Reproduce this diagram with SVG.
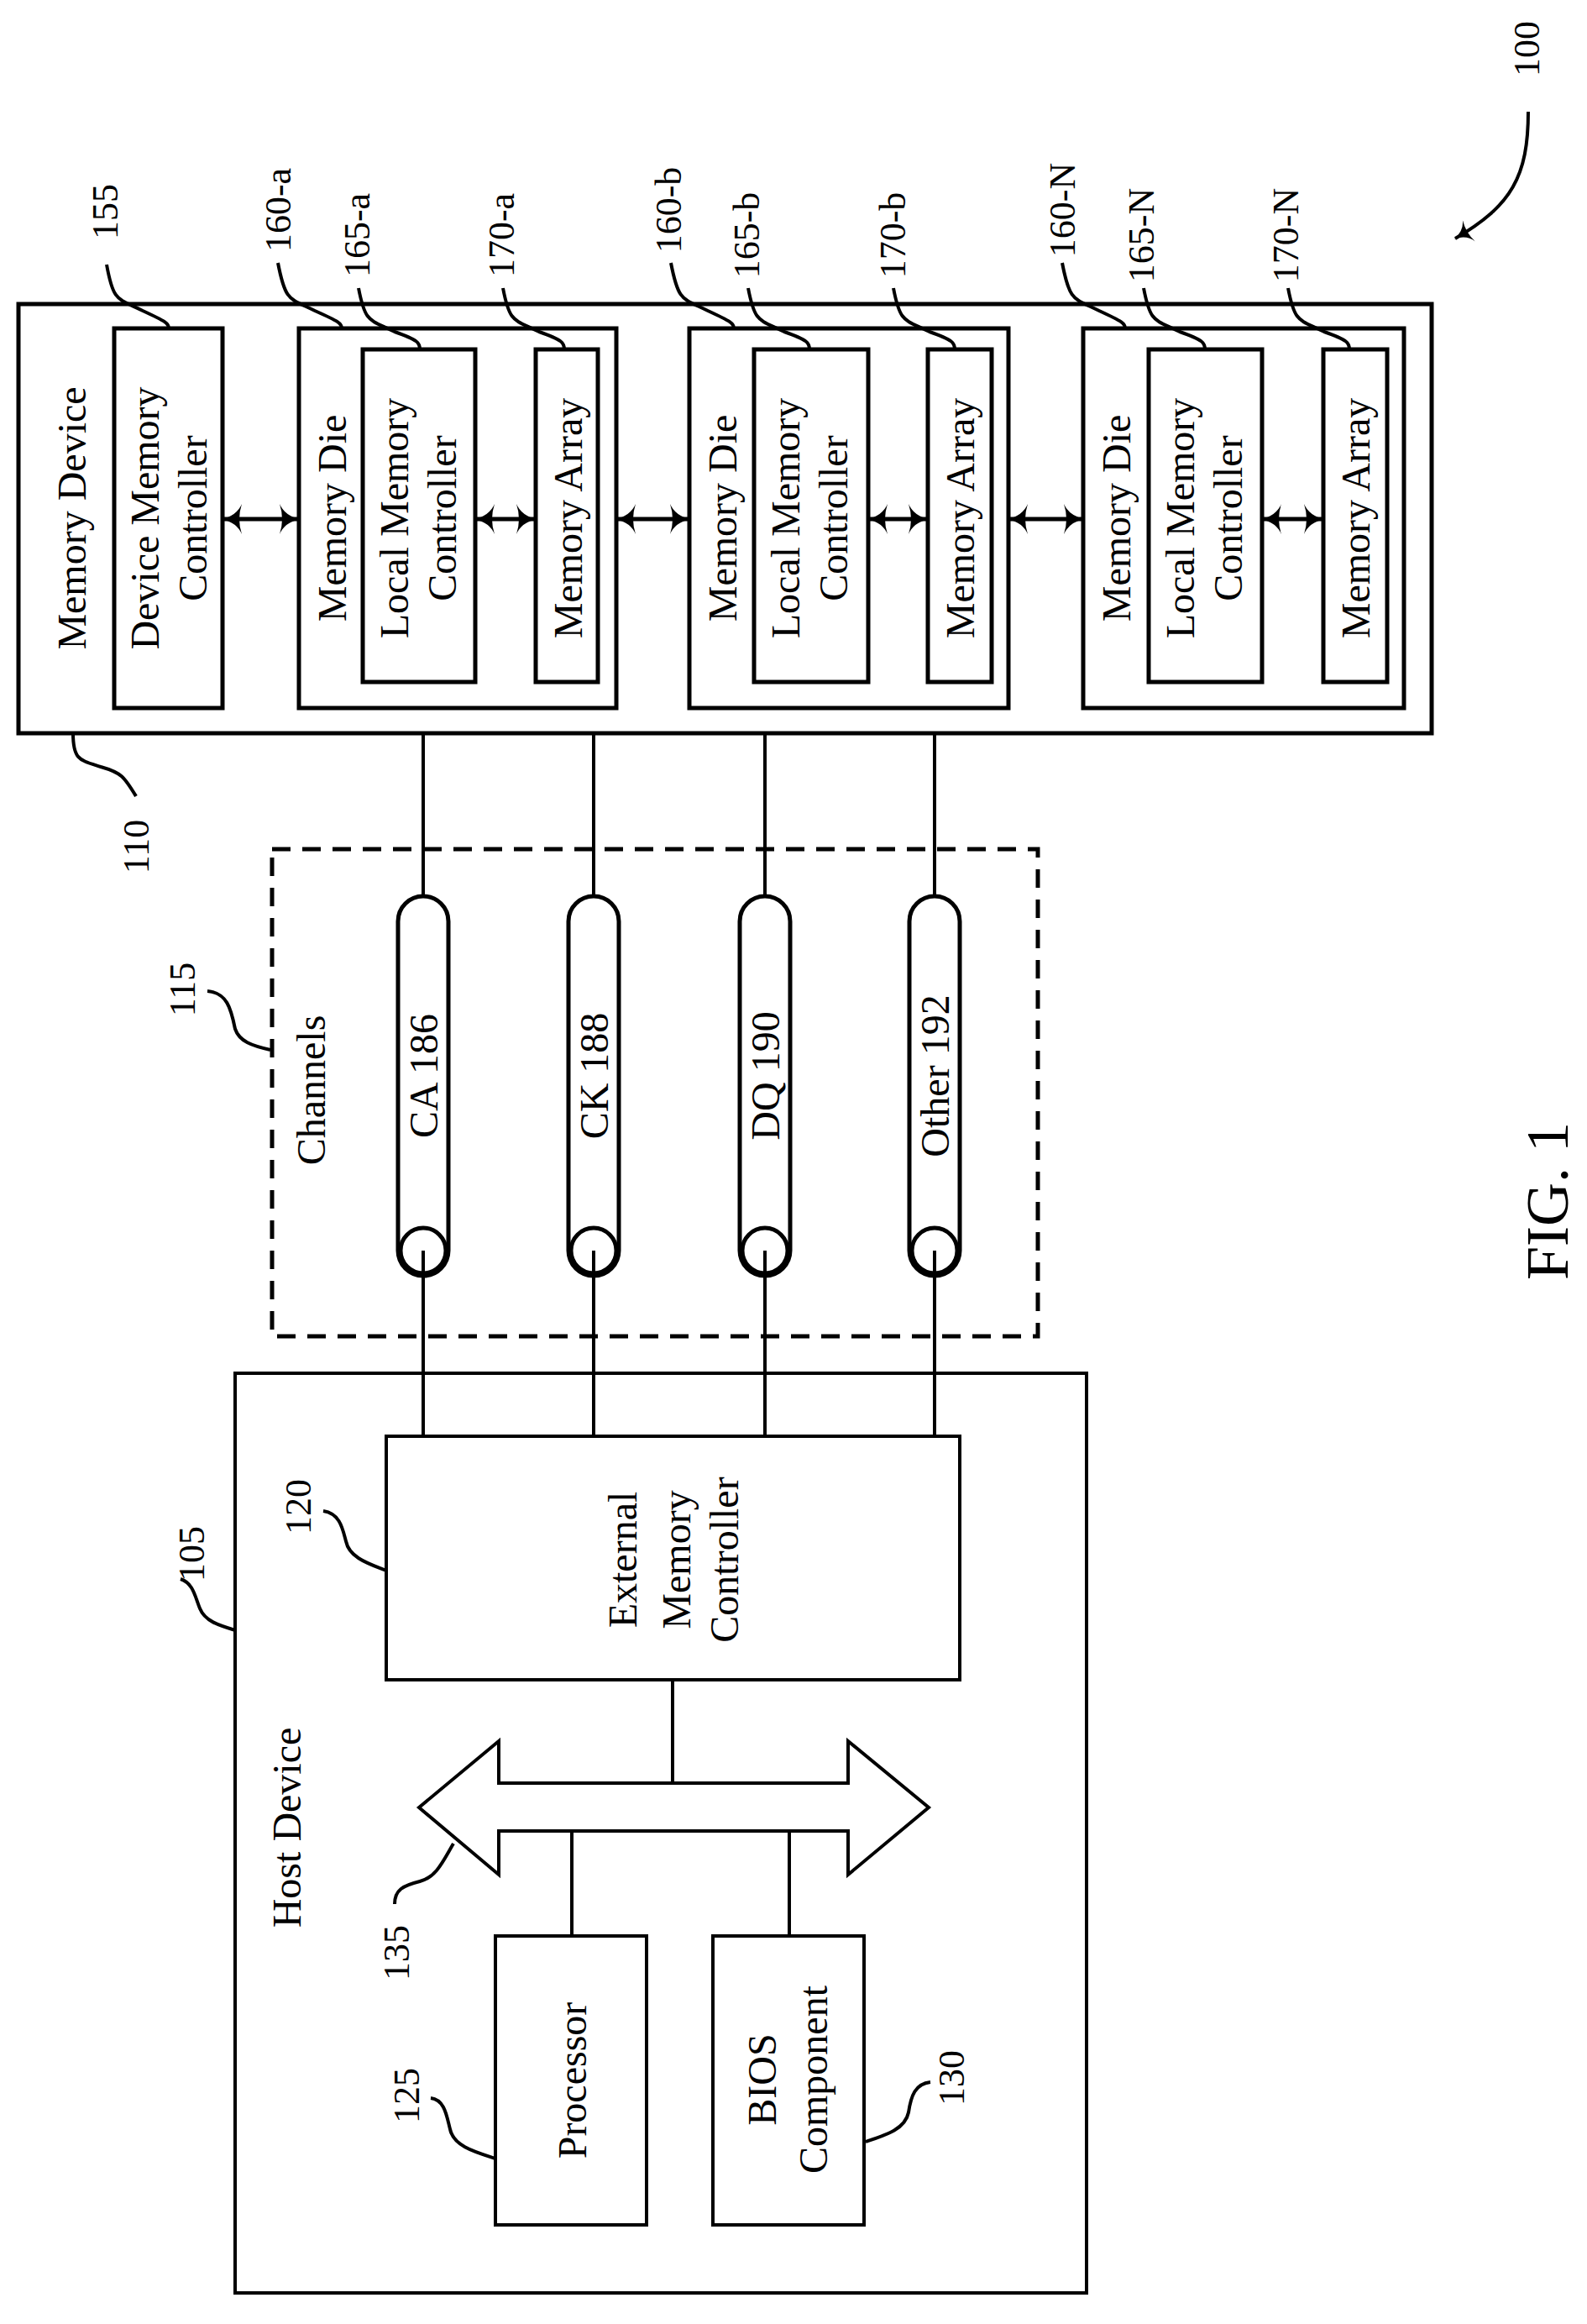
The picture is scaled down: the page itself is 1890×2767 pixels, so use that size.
<svg xmlns="http://www.w3.org/2000/svg" width="1890" height="2767" viewBox="0 0 1890 2767">
<style>
.b{fill:#fff;stroke:#000;stroke-width:5}
.h{fill:none;stroke:#000;stroke-width:4}
.l{fill:none;stroke:#000;stroke-width:5}
.t{font-family:"Liberation Serif",serif;font-size:48px;fill:#000;text-anchor:middle;dominant-baseline:central}
.n{font-family:"Liberation Serif",serif;font-size:44px;fill:#000;text-anchor:middle;dominant-baseline:central}
</style>
<defs>
<marker id="ah" viewBox="0 0 24 36" refX="23" refY="18" markerWidth="24" markerHeight="36" markerUnits="userSpaceOnUse" orient="auto-start-reverse">
<path d="M0,0 Q6,14 24,18 Q6,22 0,36 Q6,18 0,0Z" fill="#000"/>
</marker>
<marker id="ah2" viewBox="0 0 20 30" refX="19" refY="15" markerWidth="20" markerHeight="30" markerUnits="userSpaceOnUse" orient="auto">
<path d="M0,0 Q5,12 20,15 Q5,18 0,30 Q5,15 0,0Z" fill="#000"/>
</marker>
</defs>

<g id="memory-device">
<rect class="b" x="22" y="362" width="1683" height="511"/>
<text class="t" transform="translate(85,617) rotate(-90)">Memory Device</text>
</g>
<g id="device-memory-controller">
<rect class="b" x="136" y="391" width="129" height="452"/>
<text class="t" transform="translate(172,617) rotate(-90)">Device Memory</text>
<text class="t" transform="translate(229,617) rotate(-90)">Controller</text>
</g>

<g id="die-a">
<rect class="b" x="356" y="391" width="378" height="452"/>
<text class="t" transform="translate(395,617) rotate(-90)">Memory Die</text>
<rect class="b" x="432" y="416" width="134" height="396"/>
<text class="t" transform="translate(469,617) rotate(-90)">Local Memory</text>
<text class="t" transform="translate(526,617) rotate(-90)">Controller</text>
<rect class="b" x="638" y="416" width="74" height="396"/>
<text class="t" transform="translate(676,617) rotate(-90)">Memory Array</text>
</g>
<g id="die-b">
<rect class="b" x="821" y="391" width="380" height="452"/>
<text class="t" transform="translate(860,617) rotate(-90)">Memory Die</text>
<rect class="b" x="898" y="416" width="136" height="396"/>
<text class="t" transform="translate(935,617) rotate(-90)">Local Memory</text>
<text class="t" transform="translate(992,617) rotate(-90)">Controller</text>
<rect class="b" x="1105" y="416" width="76" height="396"/>
<text class="t" transform="translate(1143,617) rotate(-90)">Memory Array</text>
</g>
<g id="die-n">
<rect class="b" x="1290" y="391" width="382" height="452"/>
<text class="t" transform="translate(1329,617) rotate(-90)">Memory Die</text>
<rect class="b" x="1368" y="416" width="135" height="396"/>
<text class="t" transform="translate(1405,617) rotate(-90)">Local Memory</text>
<text class="t" transform="translate(1462,617) rotate(-90)">Controller</text>
<rect class="b" x="1576" y="416" width="76" height="396"/>
<text class="t" transform="translate(1614,617) rotate(-90)">Memory Array</text>
</g>

<g id="channels">
<rect x="324" y="1011" width="912" height="580" fill="none" stroke="#000" stroke-width="5" stroke-dasharray="22,14"/>
<text class="t" transform="translate(370,1298) rotate(-90)">Channels</text>
</g>
<g id="ch-ca">
<path class="l" d="M474,1489 V1097 A30,30 0 0 1 534,1097 V1489 A30,30 0 0 1 474,1489Z"/>
<circle class="l" cx="504" cy="1489" r="27"/>
<text class="t" transform="translate(504,1281) rotate(-90)">CA 186</text>
</g>
<g id="ch-ck">
<path class="l" d="M677,1489 V1097 A30,30 0 0 1 737,1097 V1489 A30,30 0 0 1 677,1489Z"/>
<circle class="l" cx="707" cy="1489" r="27"/>
<text class="t" transform="translate(707,1281) rotate(-90)">CK 188</text>
</g>
<g id="ch-dq">
<path class="l" d="M881,1489 V1097 A30,30 0 0 1 941,1097 V1489 A30,30 0 0 1 881,1489Z"/>
<circle class="l" cx="911" cy="1489" r="27"/>
<text class="t" transform="translate(911,1281) rotate(-90)">DQ 190</text>
</g>
<g id="ch-other">
<path class="l" d="M1083,1489 V1097 A30,30 0 0 1 1143,1097 V1489 A30,30 0 0 1 1083,1489Z"/>
<circle class="l" cx="1113" cy="1489" r="27"/>
<text class="t" transform="translate(1113,1281) rotate(-90)">Other 192</text>
</g>

<g id="host-device">
<rect class="h" x="280" y="1635" width="1014" height="1095"/>
<text class="t" transform="translate(341,2176) rotate(-90)">Host Device</text>
</g>
<g id="external-memory-controller">
<rect class="h" x="460" y="1710" width="683" height="290" fill="#fff"/>
<text class="t" transform="translate(741,1857) rotate(-90)">External</text>
<text class="t" transform="translate(805,1857) rotate(-90)">Memory</text>
<text class="t" transform="translate(862,1857) rotate(-90)">Controller</text>
</g>
<g id="bus">
<path class="h" d="M499,2152 L594,2073 V2123 H1010 V2073 L1106,2152 L1010,2232 V2180 H594 V2232 Z"/>
</g>
<g id="processor">
<rect class="h" x="590" y="2305" width="180" height="344"/>
<text class="t" transform="translate(681,2477) rotate(-90)">Processor</text>
</g>
<g id="bios">
<rect class="h" x="849" y="2305" width="180" height="344"/>
<text class="t" transform="translate(907,2476) rotate(-90)">BIOS</text>
<text class="t" transform="translate(968,2476) rotate(-90)">Component</text>
</g>

<g id="connectors">
<line class="l" x1="265" y1="618" x2="356" y2="618" marker-start="url(#ah)" marker-end="url(#ah)"/>
<line class="l" x1="566" y1="618" x2="638" y2="618" marker-start="url(#ah)" marker-end="url(#ah)"/>
<line class="l" x1="734" y1="618" x2="821" y2="618" marker-start="url(#ah)" marker-end="url(#ah)"/>
<line class="l" x1="1034" y1="618" x2="1105" y2="618" marker-start="url(#ah)" marker-end="url(#ah)"/>
<line class="l" x1="1201" y1="618" x2="1290" y2="618" marker-start="url(#ah)" marker-end="url(#ah)"/>
<line class="l" x1="1503" y1="618" x2="1576" y2="618" marker-start="url(#ah)" marker-end="url(#ah)"/>
<path class="h" d="M504,873 V1067 M707,873 V1067 M911,873 V1067 M1113,873 V1067"/>
<path class="h" d="M504,1489 V1710 M707,1489 V1710 M911,1489 V1710 M1113,1489 V1710"/>
<path class="h" d="M801,2000 V2123 M681,2180 V2305 M940,2180 V2305"/>
</g>

<g id="labels">
<text class="n" transform="translate(125,252) rotate(-90)">155</text>
<text class="n" transform="translate(331,250) rotate(-90)">160-a</text>
<text class="n" transform="translate(425,280) rotate(-90)">165-a</text>
<text class="n" transform="translate(597,280) rotate(-90)">170-a</text>
<text class="n" transform="translate(796,250) rotate(-90)">160-b</text>
<text class="n" transform="translate(889,280) rotate(-90)">165-b</text>
<text class="n" transform="translate(1063,280) rotate(-90)">170-b</text>
<text class="n" transform="translate(1265,250) rotate(-90)">160-N</text>
<text class="n" transform="translate(1359,280) rotate(-90)">165-N</text>
<text class="n" transform="translate(1531,280) rotate(-90)">170-N</text>
<text class="n" transform="translate(1818,58) rotate(-90)">100</text>
<text class="n" transform="translate(162,1008) rotate(-90)">110</text>
<text class="n" transform="translate(217,1178) rotate(-90)">115</text>
<text class="n" transform="translate(228,1850) rotate(-90)">105</text>
<text class="n" transform="translate(355,1794) rotate(-90)">120</text>
<text class="n" transform="translate(472,2325) rotate(-90)">135</text>
<text class="n" transform="translate(484,2495) rotate(-90)">125</text>
<text class="n" transform="translate(1133,2474) rotate(-90)">130</text>
<text class="n" style="font-size:72px" transform="translate(1843,1430) rotate(-90)">FIG. 1</text>
</g>
<g id="leaders" fill="none" stroke="#000" stroke-width="4">
<path d="M127,315 C135,360 140,355 170,370 C198,383 201,385 201,391"/>
<path d="M331,313 C340,360 345,355 375,370 C404,383 407,385 407,391"/>
<path d="M427,343 C435,385 440,380 470,395 C498,405 500,408 500,416"/>
<path d="M599,343 C607,385 612,380 642,395 C670,405 672,408 672,416"/>
<path d="M799,313 C808,360 813,355 843,370 C871,383 874,385 874,391"/>
<path d="M891,343 C899,385 904,380 934,395 C962,405 964,408 964,416"/>
<path d="M1064,343 C1072,385 1077,380 1107,395 C1135,405 1137,408 1137,416"/>
<path d="M1265,313 C1274,360 1279,355 1309,370 C1337,383 1340,385 1340,391"/>
<path d="M1362,343 C1370,385 1375,380 1405,395 C1433,405 1435,408 1435,416"/>
<path d="M1534,343 C1542,385 1547,380 1577,395 C1605,405 1607,408 1607,416"/>
<path d="M87,873 C87,905 95,905 120,913 C145,920 148,925 162,948"/>
<path d="M247,1180 C270,1182 275,1200 280,1225 C285,1240 300,1245 322,1250"/>
<path d="M215,1880 C230,1885 232,1900 238,1915 C244,1930 260,1935 280,1941"/>
<path d="M385,1799 C405,1802 408,1820 412,1835 C416,1855 440,1862 460,1870"/>
<path d="M470,2267 C470,2250 480,2245 500,2240 C520,2235 528,2215 540,2195"/>
<path d="M513,2498 C530,2500 532,2520 536,2535 C540,2555 565,2562 590,2570"/>
<path d="M1108,2479 C1090,2481 1085,2495 1082,2515 C1078,2535 1055,2542 1031,2550"/>
<path d="M1820,133 C1820,210 1800,245 1733,284" marker-end="url(#ah2)"/>
</g>
</svg>
